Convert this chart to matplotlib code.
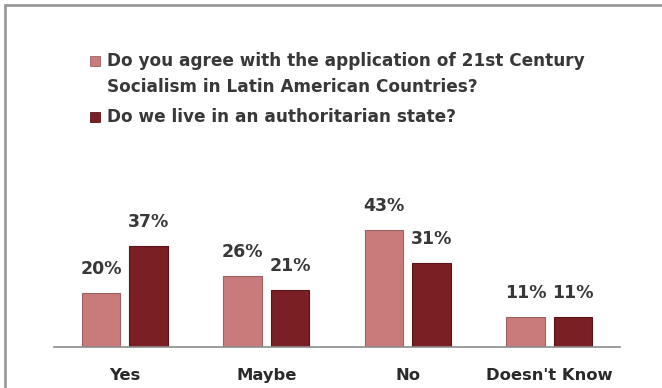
import matplotlib
matplotlib.use("Agg")
import matplotlib.pyplot as plt
import matplotlib.patches as patches
import numpy as np

categories = ["Yes", "Maybe", "No", "Doesn't Know"]
series_names = [
    "Do you agree with the application of 21st Century\nSocialism in Latin American Countries?",
    "Do we live in an authoritarian state?",
]
socialism_pct = [20, 26, 43, 11]
authoritarian_pct = [37, 21, 31, 11]

light = "#c97b7b"
dark = "#7a1f24"
edge_light = "#9a6262"
edge_dark = "#5a1518"
text_col = "#383838"

plt.rcParams["font.family"] = ["DejaVu Sans"]

fig = plt.figure(figsize=(6.62, 3.88), dpi=100)
ax = fig.add_axes([54 / 662, 41 / 388, 566 / 662, 136 / 388])

x = np.arange(len(categories))
w = 0.275
off = 0.168
b1 = ax.bar(x - off, socialism_pct, w, color=light, edgecolor=edge_light, linewidth=0.8)
b2 = ax.bar(x + off, authoritarian_pct, w, color=dark, edgecolor=edge_dark, linewidth=0.8)

for bars, vals in ((b1, socialism_pct), (b2, authoritarian_pct)):
    for rect, v in zip(bars, vals):
        ax.annotate(f"{v}%", (rect.get_x() + rect.get_width() / 2, v),
                    xytext=(0, 15), textcoords="offset pixels",
                    ha="center", va="bottom", fontsize=12.5,
                    color=text_col, fontweight="bold", annotation_clip=False)

ax.set_xlim(-0.5, len(categories) - 0.5)
ax.set_ylim(0, 50)
ax.set_xticks(x)
ax.set_xticklabels(categories, fontsize=11.8, fontweight="bold", color="#2a2a2a")
ax.tick_params(axis="x", length=0, pad=15)
ax.set_yticks([])
for s in ("top", "right", "left"):
    ax.spines[s].set_visible(False)
ax.spines["bottom"].set_color("#8c8c8c")
ax.spines["bottom"].set_linewidth(1.2)

# frame around the chart area
fig.patches.append(patches.Rectangle((5 / 662, -0.2), 1.2, 1.2 - 5 / 388,
                                     transform=fig.transFigure, fill=False,
                                     edgecolor="#9a9a9a", linewidth=2))

# legend drawn by hand so the swatch sits on the first line
leg_y = [1 - 61 / 388, 1 - 116.5 / 388]
for name, col, ec, y in zip(series_names, [light, dark], [edge_light, edge_dark], leg_y):
    fig.patches.append(patches.Rectangle((90 / 662, y - 5 / 388), 10 / 662, 10 / 388,
                                         transform=fig.transFigure, facecolor=col,
                                         edgecolor=ec, linewidth=0.6))
    fig.text(107 / 662, y + 8.5 / 388, name, ha="left", va="top", fontsize=12.2,
             fontweight="bold", color=text_col, linespacing=1.53)

fig.savefig("out.png", dpi=100)
